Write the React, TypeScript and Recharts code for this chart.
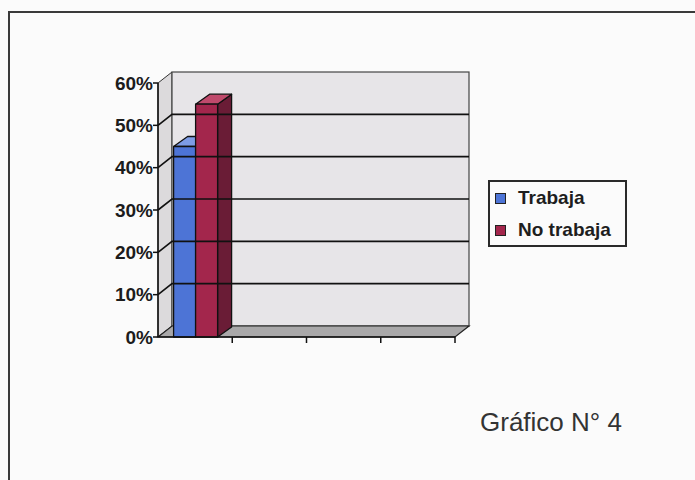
import React from "react";
import {
  BarChart,
  Bar,
  XAxis,
  YAxis,
  ReferenceArea,
  ReferenceLine,
} from "recharts";

const categories = ["1", "2", "3", "4"];
const trabaja = [0.45, null, null, null];
const noTrabaja = [0.55, null, null, null];
const yTicks = [0, 0.1, 0.2, 0.3, 0.4, 0.5, 0.6];
const seriesNames = ["Trabaja", "No trabaja"];
const title = "Gráfico N° 4";

const FONT = '"Liberation Sans", Arial, sans-serif';

const SERIES = [
  { key: "trabaja", name: seriesNames[0], front: "#4d74d6", top: "#7d9ce6", side: "#2f4f9e" },
  { key: "noTrabaja", name: seriesNames[1], front: "#a3264c", top: "#c04a6c", side: "#6a1c36" },
];

// depth offsets for the fake 3d look
const WALL_DX = 14;
const WALL_DY = -11;
const BAR_DX = 14;
const BAR_DY = -10;

const data = categories.map((cat, i) => ({
  cat,
  trabaja: trabaja[i],
  noTrabaja: noTrabaja[i],
}));

function Bar3D(props: any) {
  const { x, y, width: w, height: h, value, front, top, side } = props;
  if (value == null || !h) return <g />;
  return (
    <g stroke="#111" strokeWidth={1.3} strokeLinejoin="round">
      <polygon
        points={`${x + w},${y} ${x + w + BAR_DX},${y + BAR_DY} ${x + w + BAR_DX},${y + h + BAR_DY} ${x + w},${y + h}`}
        fill={side}
      />
      <polygon
        points={`${x},${y} ${x + BAR_DX},${y + BAR_DY} ${x + w + BAR_DX},${y + BAR_DY} ${x + w},${y}`}
        fill={top}
      />
      <rect x={x} y={y} width={w} height={h} fill={front} />
    </g>
  );
}

function Walls(props: any) {
  const { x, y, width: w, height: h } = props;
  const b = y + h;
  return (
    <g>
      <polygon
        points={`${x},${y} ${x + WALL_DX},${y + WALL_DY} ${x + WALL_DX},${b + WALL_DY} ${x},${b}`}
        fill="#dcdadc"
        stroke="#333"
        strokeWidth={1}
      />
      <rect
        x={x + WALL_DX}
        y={y + WALL_DY}
        width={w}
        height={h}
        fill="#e7e5e8"
        stroke="#444"
        strokeWidth={1.2}
      />
      <polygon
        points={`${x},${b} ${x + w},${b} ${x + w + WALL_DX},${b + WALL_DY} ${x + WALL_DX},${b + WALL_DY}`}
        fill="#a9a8a9"
        stroke="#222"
        strokeWidth={1.2}
      />
    </g>
  );
}

function GridLine3D(props: any) {
  const { x1, y1, x2 } = props;
  return (
    <polyline
      points={`${x1},${y1} ${x1 + WALL_DX},${y1 + WALL_DY} ${x2 + WALL_DX},${y1 + WALL_DY}`}
      fill="none"
      stroke="#111"
      strokeWidth={1.6}
    />
  );
}

function XTick(props: any) {
  const { x, y, payload } = props;
  const bx = x + (payload?.offset ?? 0);
  return <line x1={bx} y1={y - 8} x2={bx} y2={y - 2} stroke="#111" strokeWidth={1.5} />;
}

export default function App() {
  return (
    <div
      style={{
        position: "absolute",
        left: 0,
        top: 0,
        width: 695,
        height: 480,
        overflow: "hidden",
        background: "#fbfbfb",
        fontFamily: FONT,
      }}
    >
      <div
        style={{
          position: "absolute",
          left: 8,
          top: 11,
          width: 800,
          height: 800,
          border: "2px solid #3a3a3a",
        }}
      />
      <div style={{ position: "absolute", left: 0, top: 0 }}>
        <BarChart
          width={695}
          height={480}
          data={data}
          margin={{ top: 83, right: 240, bottom: 113, left: 98 }}
          barCategoryGap="21%"
          barGap={0}
        >
          <ReferenceArea y1={0} y2={0.6} ifOverflow="visible" shape={<Walls />} />
          {yTicks.slice(1, -1).map((t) => (
            <ReferenceLine
              key={t}
              y={t}
              ifOverflow="visible"
              shape={<GridLine3D />}
            />
          ))}
          <XAxis
            dataKey="cat"
            height={30}
            tickLine={false}
            tick={<XTick />}
            axisLine={{ stroke: "#111", strokeWidth: 1.5 }}
          />
          <YAxis
            width={60}
            domain={[0, 0.6]}
            ticks={yTicks}
            interval={0}
            tickSize={5}
            tickMargin={0}
            tickFormatter={(v: number) => `${Math.round(v * 100)}%`}
            tick={{ fill: "#1c1c1c", fontSize: 19, fontWeight: "bold", fontFamily: FONT }}
            tickLine={{ stroke: "#111", strokeWidth: 1.5 }}
            axisLine={{ stroke: "#111", strokeWidth: 1.5 }}
          />
          {SERIES.map((s) => (
            <Bar
              key={s.key}
              dataKey={s.key}
              name={s.name}
              fill={s.front}
              isAnimationActive={false}
              shape={(p: any) => <Bar3D {...p} front={s.front} top={s.top} side={s.side} />}
            />
          ))}
        </BarChart>
      </div>
      <div
        style={{
          position: "absolute",
          left: 488,
          top: 180,
          width: 135,
          height: 63,
          border: "2px solid #2a2a2a",
        }}
      >
        {SERIES.map((s, i) => (
          <div
            key={s.key}
            style={{
              position: "absolute",
              left: 5,
              top: 5 + i * 32,
              display: "flex",
              alignItems: "center",
              fontSize: 19,
              fontWeight: "bold",
              color: "#1e1e1e",
              whiteSpace: "nowrap",
            }}
          >
            <span
              style={{
                display: "inline-block",
                width: 9,
                height: 9,
                background: s.front,
                border: "1.5px solid #222",
                marginRight: 12,
              }}
            />
            {s.name}
          </div>
        ))}
      </div>
      <div
        style={{
          position: "absolute",
          left: 480,
          top: 407,
          fontSize: 26,
          color: "#333",
          whiteSpace: "nowrap",
        }}
      >
        {title}
      </div>
    </div>
  );
}
